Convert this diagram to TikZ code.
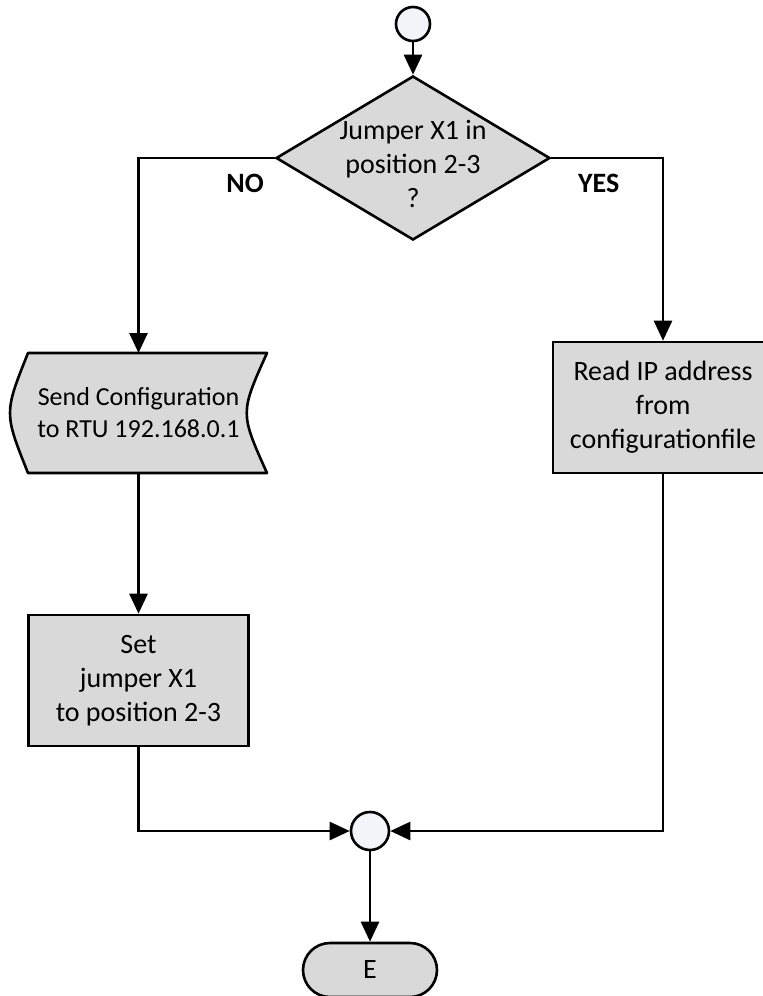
\documentclass[tikz,border=0pt]{standalone}
\usepackage{fontspec}
\setmainfont{Carlito}
\usetikzlibrary{arrows.meta,positioning,shapes.geometric,shapes.misc}

\definecolor{boxgray}{RGB}{217,217,217}
\definecolor{dotfill}{RGB}{242,244,250}

\begin{document}
\begin{tikzpicture}[x=1pt,
            y=1pt,
            >={Triangle[length=20pt,width=18pt]},
            on grid,
            line width=2.6pt,
            font=\fontsize{28}{34}\selectfont,
            dot/.style={circle, draw, fill=dotfill, inner sep=0pt},
            decision/.style={diamond, draw, fill=boxgray, inner sep=0pt,
                             minimum width=274pt, minimum height=164pt},
            process/.style={rectangle, draw, fill=boxgray, align=center,
                            inner sep=0pt, minimum width=220pt, minimum height=131pt},
            datanode/.style={rectangle, inner sep=0pt, outer sep=0pt,
                             minimum width=257pt, minimum height=120pt},
            terminal/.style={rounded rectangle, draw, fill=boxgray, inner sep=0pt,
                             minimum width=134pt, minimum height=54pt},
            answer/.style={font=\fontsize{28}{34}\selectfont\bfseries, yshift=-25pt}]

        \useasboundingbox (0,0) rectangle (763,-996);

        \node[dot, minimum size=34pt] (start) at (413,-24) {};
        \node[decision]  (dec)   [below=134pt of start] {};
        \node[align=center] (dectext) at ([yshift=-6pt]dec.center)
              {Jumper X1 in\\position 2-3\\?};
        \node[datanode]  (send)  [below left=255pt and 274.5pt of dec] {};
        \node[process]   (read)  [below right=249.5pt and 250pt of dec]
              {Read IP address\\from\\configurationfile};
        \node[process]   (set)   [below=267.5pt of send]
              {Set\\jumper X1\\to position 2-3};
        \node[dot, minimum size=38pt] (merge) [below left=673pt and 43pt of dec] {};
        \node[terminal]  (end)   [below=139pt of merge] {E};

        % stored data shape
        \path[draw, fill=boxgray, line join=round]
            ([xshift=18pt]send.north west) -- (send.north east)
            .. controls ([xshift=-27pt]send.east) .. (send.south east)
            -- ([xshift=18pt]send.south west)
            .. controls ([xshift=-6pt]send.west) .. cycle;
        \node[align=center, font=\fontsize{26}{32}\selectfont] (sendtext) at (send)
              {Send Configuration\\to RTU 192.168.0.1};

        \draw[->] (start) -- (dec);
        \draw[->] (dec.west) -| node[answer, pos=0.109] {NO} (send.north);
        \draw[->] (dec.east) -| node[answer, pos=0.212] {YES} (read.north);
        \draw[->] (send.south) -- (set.north);
        \draw[->] (set.south) |- (merge.west);
        \draw[->] (read.south) |- (merge.east);
        \draw[->] (merge) -- (end);

\end{tikzpicture}
\end{document}
